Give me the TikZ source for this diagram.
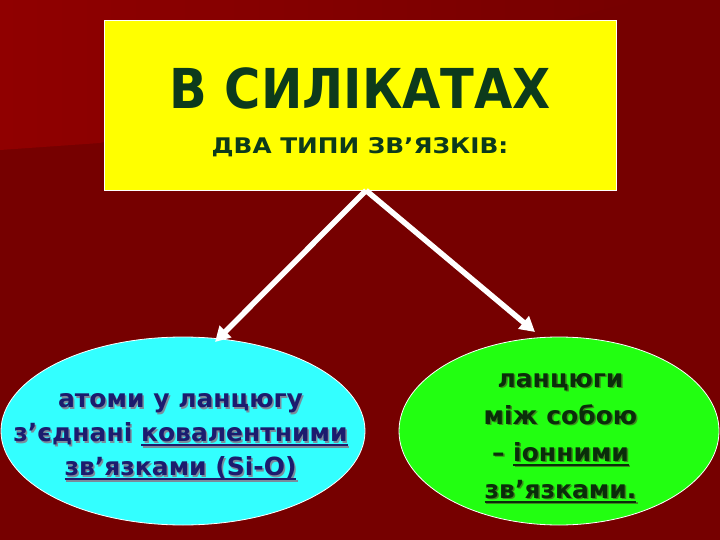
\documentclass[tikz,border=0pt]{standalone}
\usepackage{fontspec}
\setmainfont{DejaVu Sans}
\newfontfamily\condfont{DejaVu Sans Condensed}
\newcommand\myul[1]{\setbox0\hbox{#1}\rlap{\rule[-4.5pt]{\wd0}{1.8pt}}\box0}
% text with a drop shadow: #1 shadow colour, #2 offset, #3 text
\newcommand\shd[3]{\rlap{\kern#2\raisebox{-#2}{\color{#1}#3}}#3}
\usetikzlibrary{shapes.geometric,arrows.meta,calc}
\definecolor{bgdark}{HTML}{760000}
\definecolor{bglight}{HTML}{900000}
\definecolor{boxyellow}{HTML}{FFFF00}
\definecolor{titlecol}{HTML}{0C3A1C}
\definecolor{cyanfill}{HTML}{33FFFF}
\definecolor{greenfill}{HTML}{22FF11}
\definecolor{navytext}{HTML}{1C1C6E}
\definecolor{navyshadow}{HTML}{7A8C9C}
\definecolor{greentext}{HTML}{0A2E0A}
\definecolor{greenshadow}{HTML}{3C8A1C}
\tikzset{
  titletext/.style={font=\condfont\bfseries\fontsize{55}{60}\selectfont, inner sep=0pt, text=titlecol},
  subtext/.style={font=\bfseries\fontsize{21.5}{26}\selectfont, inner sep=0pt, text=titlecol},
  lefttext/.style={font=\bfseries\fontsize{25}{34}\selectfont, align=center, inner sep=0pt, text=navytext},
  righttext/.style={font=\bfseries\fontsize{25}{37}\selectfont, align=center, inner sep=0pt, text=greentext},
  bubble/.style={ellipse, draw=white, line width=0.8pt, inner sep=0pt},
  linkarrow/.style={draw=white, line width=5.5pt, -{Triangle[length=15pt,width=16pt]}, fill=white}
}
\begin{document}
\begin{tikzpicture}[x=1pt,y=-1pt]
\useasboundingbox (0,0) rectangle (720,540);
% background
\fill[bgdark] (0,0) rectangle (720,540);
\shade[left color=bglight, right color=bgdark] (0,0) -- (640,0) -- (100,143) -- (0,150) -- cycle;
% yellow box
\node[fill=boxyellow, draw=white, line width=0.8pt, minimum width=512pt, minimum height=170pt, inner sep=0pt] (box) at (360,105) {};
% title
\node[titletext] (title) at (360.5,88.5) {В СИЛІКАТАХ};
\node[subtext] (sub) at (360,147) {\scalebox{1.15}[1]{ДВА ТИПИ ЗВ’ЯЗКІВ:}};
% ellipses
\node[bubble, fill=cyanfill, minimum width=364pt, minimum height=188pt] (left) at (183,431) {};
\node[bubble, fill=greenfill, minimum width=320pt, minimum height=188pt] (right) at (559,431) {};
% left text
\node[lefttext] (lefttxt) at (180.5,437.5) {\shd{navyshadow}{1.5pt}{атоми у ланцюгу}\\\shd{navyshadow}{1.5pt}{з’єднані \myul{ковалентними}}\\\shd{navyshadow}{1.5pt}{\myul{зв’язками (Si-O)}}};
% right text
\node[righttext] (righttxt) at (560.5,438.5) {\shd{greenshadow}{1.5pt}{ланцюги}\\\shd{greenshadow}{1.5pt}{між собою}\\\shd{greenshadow}{1.5pt}{– \myul{іонними}}\\\shd{greenshadow}{1.5pt}{\myul{зв’язками.}}};
% connectors
\coordinate (apex) at ($(box.south)+(6,0)$);
\coordinate (ltip) at (215,342);
\coordinate (rtip) at (535,332);
\draw[linkarrow] (apex) -- (ltip);
\draw[linkarrow] (apex) -- (rtip);
\end{tikzpicture}
\end{document}
